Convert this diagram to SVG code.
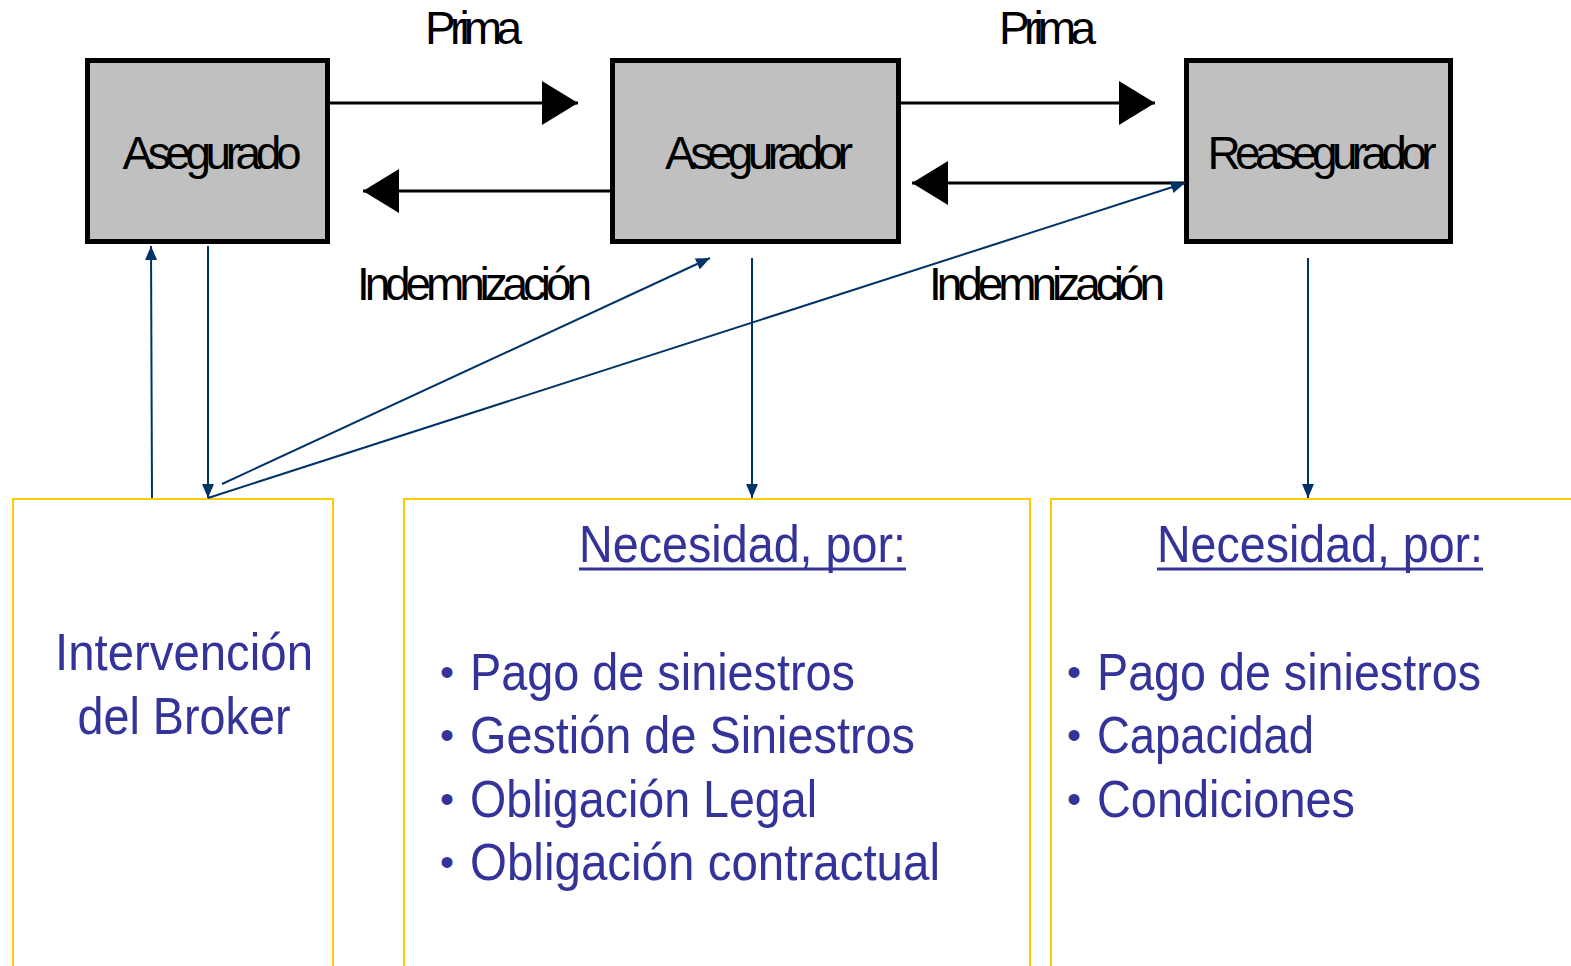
<svg xmlns="http://www.w3.org/2000/svg" width="1571" height="966" viewBox="0 0 1571 966">
<style>
.node{fill:#c0c0c0;stroke:#000;stroke-width:5}
.nlabel{font-family:"Liberation Sans",Arial,sans-serif;font-size:46px;fill:#000;text-anchor:middle}
.elabel{font-family:"Liberation Sans",Arial,sans-serif;font-size:46px;fill:#000}
.blk{stroke:#000;stroke-width:3;fill:none}
.blu{stroke:#003366;stroke-width:2;fill:none}
.ybox{fill:#fff;stroke:#ffcc00;stroke-width:2}
.btxt{font-family:"Liberation Sans Narrow","Liberation Sans",Arial,sans-serif;font-size:52px;fill:#333399}
.bul{font-family:"Liberation Sans",Arial,sans-serif;font-size:40px;fill:#333399}
.ul{stroke:#333399;stroke-width:3}
</style>
<defs>
<marker id="bh" markerUnits="userSpaceOnUse" markerWidth="36" markerHeight="44" refX="36" refY="22" orient="auto">
<path d="M0,0 L36,22 L0,44 Z" fill="#000"/>
</marker>
<marker id="uh" markerUnits="userSpaceOnUse" markerWidth="14" markerHeight="12" refX="14" refY="6" orient="auto">
<path d="M0,0 L14,6 L0,12 Z" fill="#003366"/>
</marker>
</defs>
<rect width="1571" height="966" fill="#fff"/>

<g id="broker">
<rect class="ybox" x="13" y="499" width="320" height="480"/>
<text class="btxt" x="184" y="670" text-anchor="middle" textLength="258" lengthAdjust="spacingAndGlyphs">Intervención</text>
<text class="btxt" x="184" y="734" text-anchor="middle" textLength="213" lengthAdjust="spacingAndGlyphs">del Broker</text>
</g>

<g id="necesidad-asegurador">
<rect class="ybox" x="404" y="499" width="626" height="480"/>
<text class="btxt" x="579" y="562" textLength="327" lengthAdjust="spacingAndGlyphs">Necesidad, por:</text>
<line class="ul" x1="579" y1="569" x2="906" y2="569"/>
<text class="bul" x="440" y="686">•</text>
<text class="btxt" x="470" y="690" textLength="385" lengthAdjust="spacingAndGlyphs">Pago de siniestros</text>
<text class="bul" x="440" y="749">•</text>
<text class="btxt" x="470" y="753" textLength="445" lengthAdjust="spacingAndGlyphs">Gestión de Siniestros</text>
<text class="bul" x="440" y="813">•</text>
<text class="btxt" x="470" y="817" textLength="347" lengthAdjust="spacingAndGlyphs">Obligación Legal</text>
<text class="bul" x="440" y="876">•</text>
<text class="btxt" x="470" y="880" textLength="470" lengthAdjust="spacingAndGlyphs">Obligación contractual</text>
</g>

<g id="necesidad-reasegurador">
<rect class="ybox" x="1051" y="499" width="540" height="480"/>
<text class="btxt" x="1157" y="562" textLength="326" lengthAdjust="spacingAndGlyphs">Necesidad, por:</text>
<line class="ul" x1="1157" y1="569" x2="1483" y2="569"/>
<text class="bul" x="1067" y="686">•</text>
<text class="btxt" x="1097" y="690" textLength="384" lengthAdjust="spacingAndGlyphs">Pago de siniestros</text>
<text class="bul" x="1067" y="749">•</text>
<text class="btxt" x="1097" y="753" textLength="217" lengthAdjust="spacingAndGlyphs">Capacidad</text>
<text class="bul" x="1067" y="813">•</text>
<text class="btxt" x="1097" y="817" textLength="258" lengthAdjust="spacingAndGlyphs">Condiciones</text>
</g>

<g id="asegurado">
<rect class="node" x="87.5" y="60.5" width="240" height="181"/>
<text class="nlabel" x="212" y="169" textLength="179" lengthAdjust="spacing">Asegurado</text>
</g>
<g id="asegurador">
<rect class="node" x="612.5" y="60.5" width="286" height="181"/>
<text class="nlabel" x="759" y="169" textLength="188" lengthAdjust="spacing">Asegurador</text>
</g>
<g id="reasegurador">
<rect class="node" x="1186.5" y="60.5" width="264" height="181"/>
<text class="nlabel" x="1322" y="169" textLength="229" lengthAdjust="spacing">Reasegurador</text>
</g>

<g id="connectors">
<line class="blk" x1="326" y1="103" x2="578" y2="103" marker-end="url(#bh)"/>
<line class="blk" x1="610" y1="191" x2="363" y2="191" marker-end="url(#bh)"/>
<line class="blk" x1="896" y1="103" x2="1155" y2="103" marker-end="url(#bh)"/>
<line class="blk" x1="1184" y1="183" x2="912" y2="183" marker-end="url(#bh)"/>
<text class="elabel" x="425" y="44" textLength="97" lengthAdjust="spacing">Prima</text>
<text class="elabel" x="357" y="300" textLength="235" lengthAdjust="spacing">Indemnización</text>
<text class="elabel" x="999" y="44" textLength="97" lengthAdjust="spacing">Prima</text>
<text class="elabel" x="929" y="300" textLength="236" lengthAdjust="spacing">Indemnización</text>

<line class="blu" x1="152" y1="498" x2="151" y2="246" marker-end="url(#uh)"/>
<line class="blu" x1="208" y1="246" x2="208" y2="498" marker-end="url(#uh)"/>
<line class="blu" x1="222" y1="484" x2="710" y2="258" marker-end="url(#uh)"/>
<line class="blu" x1="208" y1="498" x2="1185" y2="183" marker-end="url(#uh)"/>
<line class="blu" x1="752" y1="258" x2="752" y2="498" marker-end="url(#uh)"/>
<line class="blu" x1="1308" y1="258" x2="1308" y2="498" marker-end="url(#uh)"/>
</g>
</svg>
